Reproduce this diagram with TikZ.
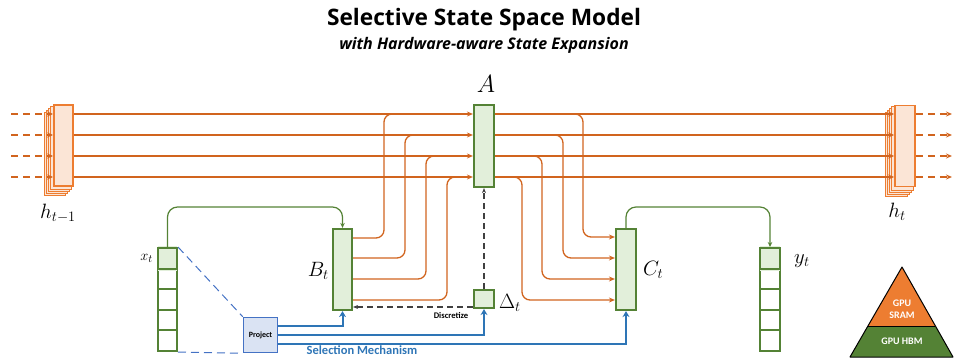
\documentclass[tikz,border=0pt]{standalone}
\usepackage{fontspec}
\newfontfamily\headfont{Open Sans}
\newfontfamily\labfont{Carlito}
\usetikzlibrary{arrows.meta,calc}

\definecolor{orln}{RGB}{209,100,30}
\definecolor{orbox}{HTML}{ED7D31}
\definecolor{orfill}{HTML}{FBE5D6}
\definecolor{grn}{HTML}{548235}
\definecolor{grnfill}{HTML}{E2EFDA}
\definecolor{bln}{HTML}{2E75B6}
\definecolor{blbox}{HTML}{4472C4}
\definecolor{blfill}{HTML}{DAE3F3}
\definecolor{kdsh}{HTML}{404040}

\tikzset{
  hstate/.style={draw=orbox, fill=orfill, line width=1.8pt, inner sep=0pt,
    minimum width=19pt, minimum height=81pt},
  hshadow/.style={draw=orbox, fill=orfill, line width=0.9pt},
  vecbox/.style={draw=grn, fill=grnfill, line width=2.2pt, inner sep=0pt},
  cellbox/.style={draw=grn, line width=2pt, inner sep=0pt,
    minimum width=19pt, minimum height=20.6pt},
  orline/.style={draw=orln, line width=1.3pt},
  ordash/.style={draw=orln, line width=1.3pt, dash pattern=on 7pt off 5pt},
  ortip/.style={-{Stealth[length=6pt,width=5pt]}},
  gline/.style={draw=grn, line width=1.2pt, rounded corners=10pt,
    -{Stealth[length=5pt,width=4.5pt]}},
  kdash/.style={draw=kdsh, line width=1.2pt, dash pattern=on 6pt off 4pt,
    -{Stealth[length=5pt,width=4pt]}},
  bline/.style={draw=bln, line width=2pt, -{Stealth[length=6pt,width=7pt]}},
  bdash/.style={draw=blbox, line width=1pt, dash pattern=on 8pt off 5pt},
  mlab/.style={inner sep=0pt, font=\fontsize{20}{24}\selectfont},
}

\begin{document}
\begin{tikzpicture}[x=1pt,y=-1pt]
\useasboundingbox (0,0) rectangle (955,358);

% title
\node[font=\headfont\bfseries\fontsize{22.7}{26}\selectfont] (title) at (484,20) {Selective State Space Model};
\node[font=\headfont\bfseries\itshape\fontsize{16}{19}\selectfont] (subtitle) at (484,45) {with Hardware-aware State Expansion};

% stacked previous state h_{t-1}
\foreach \k in {4,3,2,1}
  \draw[hshadow] ({53-2.2*\k},{104+2*\k}) rectangle ({74-2.2*\k},{187+2*\k});
\node[hstate] (hp) at (63.5,145.5) {};
\node[mlab] (hplab) at (58,213) {$h_{t-1}$};

% stacked next state h_t
\foreach \k in {4,3,2,1}
  \draw[hshadow] ({894-2.2*\k},{104+2*\k}) rectangle ({916-2.2*\k},{188+2*\k});
\node[hstate, minimum width=20pt] (hn) at (905,146) {};
\node[mlab] (hnlab) at (897,212) {$h_t$};

% parameter boxes
\node[vecbox, minimum width=20pt, minimum height=82pt] (A) at (484,146) {};
\node[inner sep=0pt, font=\fontsize{23}{26}\selectfont] (Alab) at (486,84) {$A$};
\node[vecbox, minimum width=19pt, minimum height=81pt] (B) at (342.5,269.5) {};
\node[mlab, anchor=east] (Blab) at (329,271) {$B_t$};
\node[vecbox, minimum width=20pt, minimum height=81pt] (C) at (626,269.5) {};
\node[mlab, anchor=west] (Clab) at (643,270) {$C_t$};
\node[vecbox, minimum width=20pt, minimum height=18pt] (D) at (484,299) {};
\node[mlab, anchor=west] (Dlab) at (499,303) {$\Delta_t$};

% input x_t and output y_t
\foreach \i in {1,...,5}
  \node[cellbox] (x\i) at (167.5,{248+20.6*(\i-0.5)}) {};
\fill[grnfill] ($(x1.north west)+(1pt,1pt)$) rectangle ($(x1.south east)+(-1pt,-1pt)$);
\node[cellbox] at (x1) {};
\node[inner sep=0pt, font=\fontsize{15}{18}\selectfont, anchor=east] (xlab) at (153,258) {$x_t$};

\foreach \i in {1,...,5}
  \node[cellbox, minimum width=20pt] (y\i) at (770,{248+20.6*(\i-0.5)}) {};
\fill[grnfill] ($(y1.north west)+(1pt,1pt)$) rectangle ($(y1.south east)+(-1pt,-1pt)$);
\node[cellbox, minimum width=20pt] at (y1) {};
\node[mlab, anchor=west] (ylab) at (794,261) {$y_t$};

% projection box
\node[draw=blbox, fill=blfill, line width=1.5pt, inner sep=0pt,
  minimum width=34pt, minimum height=35pt,
  font=\labfont\bfseries\fontsize{8}{9}\selectfont] (P) at (260.5,335) {Project};

% state lanes
\foreach \yy in {114,135,156,177}{
  \coordinate (lin) at (11,\yy);
  \coordinate (lout) at (952,\yy);
  \draw[ordash,ortip] (lin) -- (hp.west |- lin);
  \draw[orline,ortip] (hp.east |- lin) -- (A.west |- lin);
  \draw[orline,ortip] (A.east |- lin) -- (hn.west |- lin);
  \draw[ordash,ortip] (hn.east |- lin) -- (lout);
}

% B_t feeding into the lanes
\foreach \ya/\xv/\yb in {238/384/114, 258/405/135, 279/426/156, 300/447/177}{
  \coordinate (src) at (0,\ya);
  \coordinate (dst) at ({\xv+16},\yb);
  \draw[orline, rounded corners=8pt] (B.east |- src) -- (\xv,\ya) -- (\xv,\yb) -- (dst);
}

% lanes read out by C_t
\foreach \xv/\ya/\yb in {583/114/237, 563/135/258, 542/156/279, 522/177/300}{
  \coordinate (src) at ({\xv-16},\ya);
  \coordinate (dst) at (0,\yb);
  \draw[orline, ortip, rounded corners=8pt] (src) -- (\xv,\ya) -- (\xv,\yb) -- (C.west |- dst);
}

% green data flow
\coordinate (gtop) at (0,207);
\draw[gline] (x1.north) -- (x1.north |- gtop) -- (B.north |- gtop) -- (B.north);
\draw[gline] (C.north) -- (C.north |- gtop) -- (y1.north |- gtop) -- (y1.north);

% discretization
\coordinate (dk) at (0,307);
\draw[kdash] (D.north) -- (A.south);
\draw[kdash] (D.west |- dk) -- (B.east |- dk);
\node[inner sep=0pt, font=\labfont\bfseries\fontsize{8.6}{10}\selectfont] (disc) at (451,316) {Discretize};

% selection mechanism
\coordinate (b1) at (0,326);
\coordinate (b2) at (0,335);
\coordinate (b3) at (0,343.5);
\draw[bdash] (x1.north east) -- (P.north west);
\draw[bdash] (x5.south east) -- (P.south west);
\draw[bline] (P.east |- b1) -| (B.south);
\draw[bline] (P.east |- b2) -| (D.south);
\draw[bline] (P.east |- b3) -| (C.south);
\node[inner sep=0pt, text=bln, font=\labfont\bfseries\fontsize{12.5}{14}\selectfont] (sel) at (362,350.5) {Selection Mechanism};

% memory hierarchy
\coordinate (apex) at (902,267);
\coordinate (bl) at (850,357);
\coordinate (br) at (953,357);
\coordinate (ml) at ($(apex)!0.656!(bl)$);
\coordinate (mr) at ($(apex)!0.656!(br)$);
\fill[orbox] (apex) -- (ml) -- (mr) -- cycle;
\fill[grn] (ml) -- (bl) -- (br) -- (mr) -- cycle;
\draw[black, line width=1pt, line join=round] (apex) -- (bl) -- (br) -- cycle;
\draw[black, line width=1pt] (ml) -- (mr);
\node[text=white, align=center, inner sep=0pt, font=\labfont\bfseries\fontsize{10}{12}\selectfont] (sram) at (902,309) {GPU\\SRAM};
\node[text=white, inner sep=0pt, font=\labfont\bfseries\fontsize{10}{11}\selectfont] (hbm) at (902,341) {GPU HBM};
\end{tikzpicture}
\end{document}
